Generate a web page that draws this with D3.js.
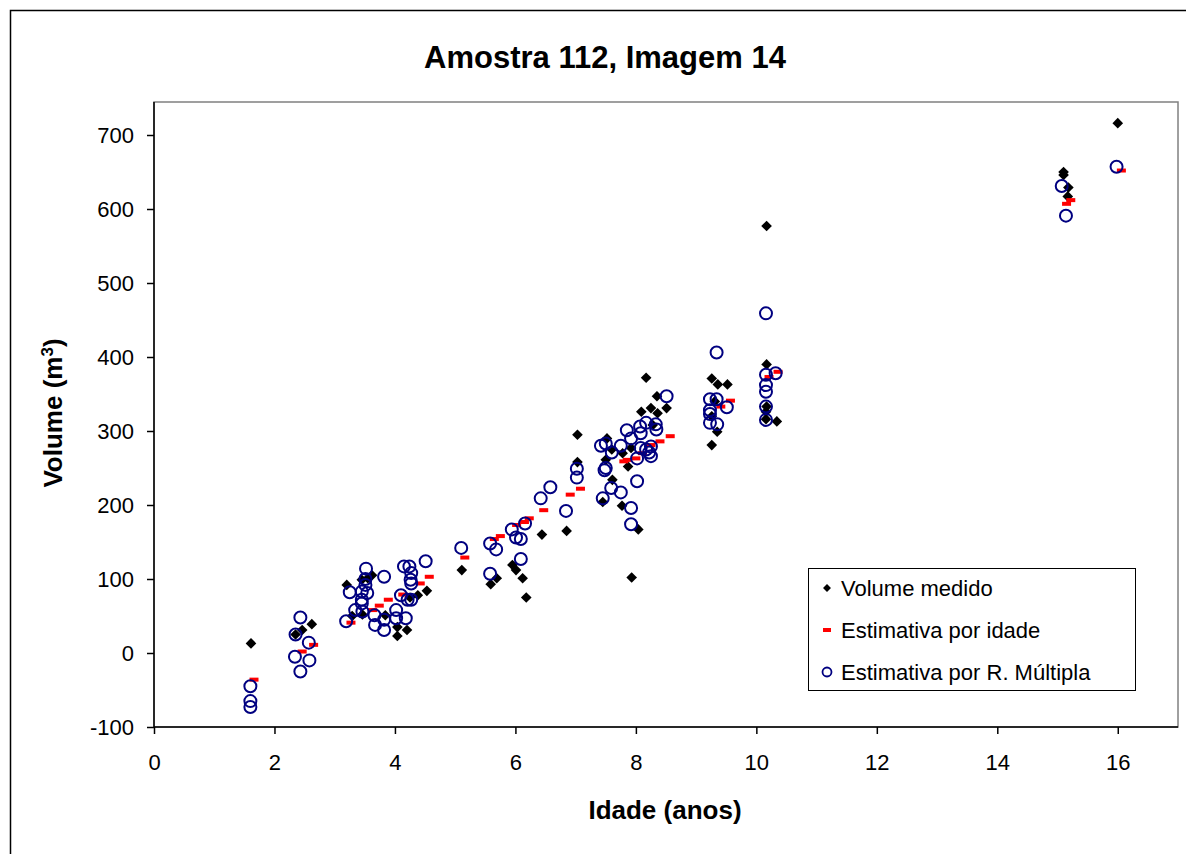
<!DOCTYPE html>
<html>
<head>
<meta charset="utf-8">
<script src="https://cdn.jsdelivr.net/npm/d3@7"></script>
<style>
  html, body { margin: 0; padding: 0; background: #fff; }
  svg { display: block; font-family: "Liberation Sans", Arial, sans-serif; }
</style>
</head>
<body>
<svg id="chart" width="1186" height="854"></svg>
<script>
// ---- Data ----
const title = "Amostra 112, Imagem 14";
const xTicks = [0, 2, 4, 6, 8, 10, 12, 14, 16];
const yTicks = [-100, 0, 100, 200, 300, 400, 500, 600, 700];
const seriesNames = ["Volume medido", "Estimativa por idade", "Estimativa por R. Múltipla"];

// Volume medido: [idade, volume]
const volumeMedido = [
  [1.61,13],[2.35,25],[2.46,31],[2.62,39],
  [3.20,92],[3.29,50],[3.45,99],[3.46,52],[3.55,101],[3.62,105],[3.84,51],[4.04,35],[4.04,23],[4.20,31],
  [4.25,75],[4.38,78],[4.53,84],
  [5.11,112],[5.59,93],[5.69,101],[5.95,119],[6.01,112],[6.12,101],[6.18,75],[6.44,160],[6.85,165],
  [7.03,258],[7.03,295],
  [7.45,204],[7.50,261],[7.52,290],[7.60,275],[7.61,234],[7.77,199],[7.78,270],[7.87,252],[7.92,277],
  [7.93,102],[8.04,167],[8.09,326],[8.17,372],[8.25,331],[8.28,308],[8.35,347],[8.36,324],[8.51,331],
  [9.26,371],[9.36,363],[9.52,363],[9.31,340],[9.26,320],[9.35,299],[9.26,281],
  [10.17,577],[10.17,390],[10.17,333],[10.16,326],[10.16,316],[10.34,313],
  [15.10,650],[15.10,646],[15.18,629],[15.17,617],[16.00,716]
];

// Estimativa por idade: [idade, volume]
const estimativaIdade = [
  [1.66,-36],[2.46,2],[2.65,11],[3.27,41],[3.63,58],[3.74,64],[3.89,72],[4.13,79],[4.42,94],[4.57,103],
  [5.16,129],[5.65,154],[5.75,158],[6.02,173],[6.15,177],[6.23,182],[6.47,193],[6.91,214],[7.08,222],
  [7.80,259],[7.86,261],[8.00,263],[8.11,270],[8.25,281],[8.40,286],[8.57,293],
  [9.41,333],[9.57,341],[10.21,373],[10.36,380],
  [15.15,607],[15.22,612],[16.06,652]
];

// Estimativa por R. Múltipla: [idade, volume]
const estimativaMultipla = [
  [1.60,-45],[1.60,-65],[1.60,-73],[2.43,48],[2.35,25],[2.34,-5],[2.57,14],[2.58,-10],[2.43,-25],
  [3.25,82],[3.52,114],[3.51,100],[3.51,92],[3.82,103],[3.45,83],[3.54,81],[3.45,72],[3.45,67],
  [3.34,58],[3.46,56],[3.19,43],[3.66,51],[3.67,38],[3.82,45],[3.82,31],[4.02,58],[4.02,47],[4.18,47],
  [4.10,78],[4.21,72],[4.27,72],[4.15,117],[4.24,117],[4.27,108],[4.26,99],[4.27,94],[4.51,124],
  [5.10,142],[5.58,148],[5.68,140],[5.58,107],[5.94,167],[6.01,156],[6.09,154],[6.16,175],[6.09,127],
  [6.42,209],[6.58,224],[6.84,192],
  [7.02,249],[7.02,237],[7.45,209],[7.59,223],[7.75,217],[7.92,196],[7.92,174],[8.02,232],
  [7.50,250],[7.48,247],[7.42,280],[7.50,283],[7.60,271],[7.75,280],[8.02,263],[8.08,277],[8.17,275],
  [8.22,271],[8.25,266],[8.25,279],[7.85,301],[7.92,290],[8.07,306],[8.08,297],[8.17,311],[8.33,309],
  [8.34,302],[8.51,347],
  [9.34,406],[9.23,343],[9.34,343],[9.51,332],[9.23,328],[9.23,323],[9.23,311],[9.35,309],
  [10.16,459],[10.16,376],[10.32,378],[10.16,362],[10.16,353],[10.16,333],[10.16,315],
  [15.07,631],[15.14,591],[15.98,657]
];

// ---- Layout ----
const svg = d3.select("#chart");
const plot = { left: 154, top: 102, right: 1178, bottom: 727 };

const x = d3.scaleLinear().domain([0, 17]).range([plot.left, plot.right]);
const y = d3.scaleLinear().domain([-100, 744.6]).range([plot.bottom, plot.top]);

// outer chart frame
svg.append("rect")
  .attr("x", 10.5).attr("y", 10.5)
  .attr("width", 1200).attr("height", 900)
  .attr("fill", "#fff").attr("stroke", "#000").attr("stroke-width", 1.5);

// plot area border (gray)
svg.append("rect")
  .attr("x", plot.left).attr("y", plot.top)
  .attr("width", plot.right - plot.left).attr("height", plot.bottom - plot.top)
  .attr("fill", "#fff").attr("stroke", "#808080").attr("stroke-width", 1.5);

// title
svg.append("text")
  .attr("x", 605).attr("y", 68)
  .attr("text-anchor", "middle")
  .attr("font-size", 31).attr("font-weight", "bold")
  .text(title);

// axes
const fmt = d => String(d);
const xAxis = d3.axisBottom(x).tickValues(xTicks).tickFormat(fmt).tickSize(7).tickPadding(20).tickSizeOuter(0);
const yAxis = d3.axisLeft(y).tickValues(yTicks).tickFormat(fmt).tickSize(7).tickPadding(13).tickSizeOuter(0);

const gx = svg.append("g").attr("transform", `translate(0,${plot.bottom})`).call(xAxis);
const gy = svg.append("g").attr("transform", `translate(${plot.left},0)`).call(yAxis);
[gx, gy].forEach(g => {
  g.select(".domain").attr("stroke", "#000").attr("stroke-width", 1.5);
  g.selectAll(".tick line").attr("stroke", "#000").attr("stroke-width", 1.5);
  g.selectAll(".tick text").attr("font-size", 22).attr("fill", "#000")
    .attr("font-family", "Liberation Sans, Arial, sans-serif");
});
gx.select(".domain").attr("d", `M${plot.left},0H${plot.right}`);
gy.select(".domain").attr("d", `M0,${plot.bottom}V${plot.top}`);

// axis titles
svg.append("text")
  .attr("x", 665).attr("y", 819)
  .attr("text-anchor", "middle")
  .attr("font-size", 26).attr("font-weight", "bold")
  .text("Idade (anos)");

const yt = svg.append("text")
  .attr("transform", "translate(62,413) rotate(-90)")
  .attr("text-anchor", "middle")
  .attr("font-size", 26).attr("font-weight", "bold");
yt.append("tspan").text("Volume (m");
yt.append("tspan").attr("baseline-shift", "super").attr("font-size", 17).text("3");
yt.append("tspan").text(")");

// ---- Marks ----
const marks = svg.append("g");
const diamond = d3.symbol().type(d3.symbolDiamond2).size(72);

marks.selectAll("path.medido").data(volumeMedido).join("path")
  .attr("class", "medido")
  .attr("d", diamond)
  .attr("transform", d => `translate(${x(d[0])},${y(d[1])})`)
  .attr("fill", "#000");

marks.selectAll("rect.idade").data(estimativaIdade).join("rect")
  .attr("class", "idade")
  .attr("x", d => x(d[0]) - 4.5).attr("y", d => y(d[1]) - 2)
  .attr("width", 9).attr("height", 4)
  .attr("fill", "#ff0000");

marks.selectAll("circle.mult").data(estimativaMultipla).join("circle")
  .attr("class", "mult")
  .attr("cx", d => x(d[0])).attr("cy", d => y(d[1]))
  .attr("r", 6)
  .attr("fill", "none").attr("stroke", "#000080").attr("stroke-width", 2);

// ---- Legend ----
const lg = svg.append("g").attr("transform", "translate(808,568)");
lg.append("rect").attr("x", 0.5).attr("y", 0.5).attr("width", 327).attr("height", 122)
  .attr("fill", "#fff").attr("stroke", "#000").attr("stroke-width", 1);
const rows = [20, 62, 104];
lg.append("path").attr("d", d3.symbol().type(d3.symbolDiamond2).size(40)())
  .attr("transform", `translate(19,${rows[0]})`).attr("fill", "#000");
lg.append("rect").attr("x", 15).attr("y", rows[1] - 2).attr("width", 8).attr("height", 4).attr("fill", "#ff0000");
lg.append("circle").attr("cx", 19).attr("cy", rows[2]).attr("r", 4.5)
  .attr("fill", "none").attr("stroke", "#000080").attr("stroke-width", 1.8);
lg.selectAll("text.lt").data(seriesNames).join("text")
  .attr("class", "lt")
  .attr("x", 33).attr("y", (d, i) => rows[i] + 8)
  .attr("font-size", 22)
  .text(d => d);
</script>
</body>
</html>
